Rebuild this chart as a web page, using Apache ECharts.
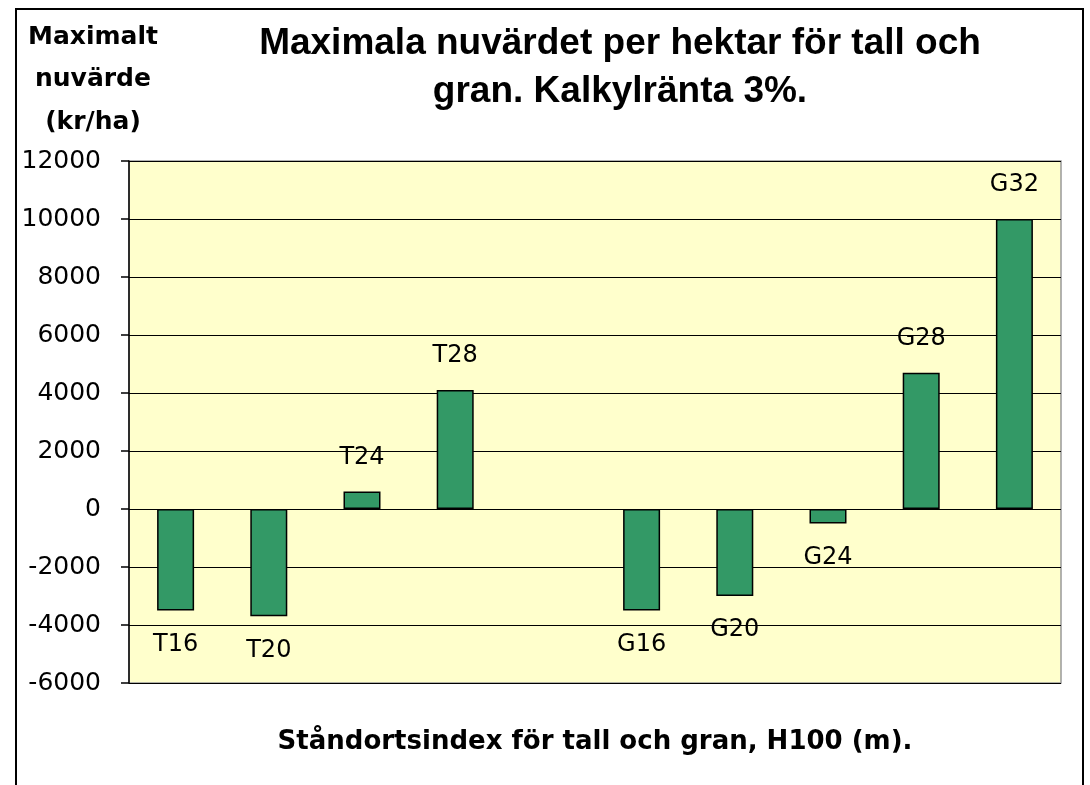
<!DOCTYPE html>
<html>
<head>
<meta charset="utf-8">
<script src="https://cdn.jsdelivr.net/npm/echarts@6/dist/echarts.min.js"></script>
<style>
html,body{margin:0;padding:0;background:#fff;}
#c{width:1090px;height:785px;}
</style>
</head>
<body>
<div id="c"></div>
<script>
const categories = ['T16','T20','T24','T28','','G16','G20','G24','G28','G32'];
const values = [-3500,-3700,600,4100,'-',-3500,-3000,-500,4700,10000];
const yTicks = {min:-6000, max:12000, interval:2000};
const titleText = 'Maximala nuvärdet per hektar för tall och\ngran. Kalkylränta 3%.';
const yName = 'Maximalt\nnuvärde\n(kr/ha)';
const xName = 'Ståndortsindex för tall och gran, H100 (m).';

const chart = echarts.init(document.getElementById('c'), null, {renderer:'canvas'});
const lib = '"Liberation Sans", Arial, sans-serif';
const dvs = '"DejaVu Sans", sans-serif';
const barData = values.map(v => v === '-' ? '-' : (v < 0 ? {value:v, label:{position:'bottom'}} : v));
chart.setOption({
  animation:false,
  backgroundColor:'#fff',
  graphic:[{
    type:'rect', z:100, silent:true,
    shape:{x:16,y:9,width:1067,height:800},
    style:{fill:null, stroke:'#000', lineWidth:2}
  }],
  title:[{
    text:titleText, left:615, top:15, textAlign:'center',
    textStyle:{fontFamily:lib, fontWeight:'bold', fontSize:37, lineHeight:48, color:'#000'}
  },{
    text:yName, left:88, top:11, textAlign:'center',
    textStyle:{fontFamily:dvs, fontWeight:'bold', fontSize:25, lineHeight:42.5, color:'#000'}
  }],
  grid:{left:129, top:161, right:29, bottom:102, show:true, backgroundColor:'#FFFFCC', borderColor:'#999', borderWidth:1.5},
  xAxis:{
    type:'category', data:categories, position:'bottom',
    axisLine:{show:false, onZero:false}, axisTick:{show:false}, axisLabel:{show:false},
    name:xName, nameLocation:'middle', nameGap:46,
    nameTextStyle:{fontFamily:dvs, fontWeight:'bold', fontSize:26, color:'#000'}
  },
  yAxis:{
    type:'value', min:yTicks.min, max:yTicks.max, interval:yTicks.interval,
    axisLine:{show:true, lineStyle:{color:'#000', width:1.5}},
    axisTick:{show:true, length:8, lineStyle:{color:'#000', width:1.5}},
    axisLabel:{margin:28, fontFamily:dvs, fontSize:25, color:'#000', formatter:function(v){return String(v);}},
    splitLine:{show:true, lineStyle:{color:'#000', width:1.2}}
  },
  series:[{
    type:'bar', data:barData, barWidth:37,
    itemStyle:{color:'#339966', borderColor:'#000', borderWidth:1.5},
    label:{show:true, position:'top', distance:22, formatter:'{b}', fontFamily:dvs, fontSize:24, color:'#000'}
  }]
});
</script>
</body>
</html>
